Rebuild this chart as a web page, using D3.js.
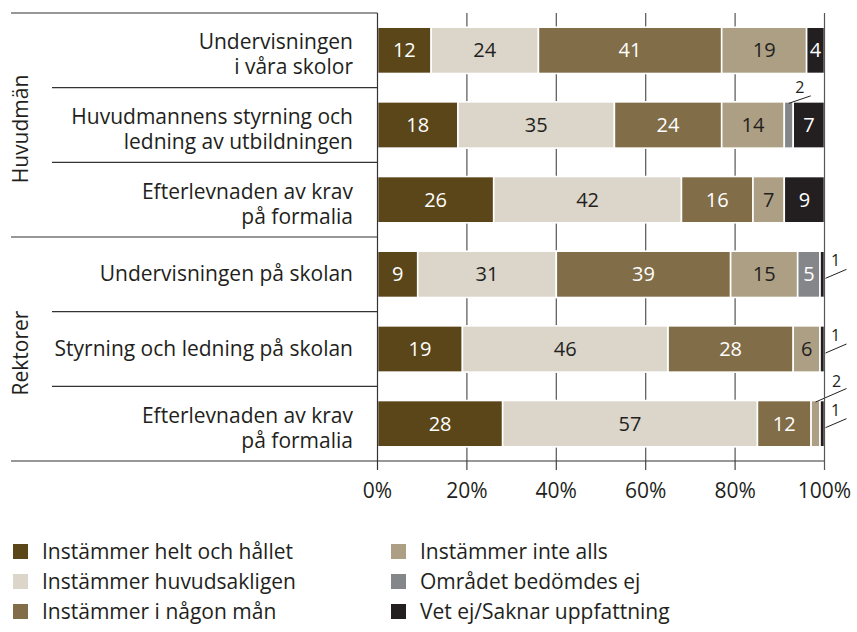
<!DOCTYPE html>
<html><head><meta charset="utf-8">
<script src="https://cdn.jsdelivr.net/npm/d3@7"></script>
<style>
html,body{margin:0;padding:0;background:#fff;}
svg{display:block;font-family:"Open Sans",sans-serif;}
</style></head>
<body>
<svg id="c" width="857" height="632"></svg>
<script>
// ---- data ----
const groups = ["Huvudmän", "Rektorer"];
const rowGroup = [0, 0, 0, 1, 1, 1];
const rowLabels = [
  ["Undervisningen", "i våra skolor"],
  ["Huvudmannens styrning och", "ledning av utbildningen"],
  ["Efterlevnaden av krav", "på formalia"],
  ["Undervisningen på skolan"],
  ["Styrning och ledning på skolan"],
  ["Efterlevnaden av krav", "på formalia"]
];
const seriesNames = [
  "Instämmer helt och hållet",
  "Instämmer huvudsakligen",
  "Instämmer i någon mån",
  "Instämmer inte alls",
  "Området bedömdes ej",
  "Vet ej/Saknar uppfattning"
];
const heltOchHallet   = [12, 18, 26,  9, 19, 28];
const huvudsakligen   = [24, 35, 42, 31, 46, 57];
const iNagonMan       = [41, 24, 16, 39, 28, 12];
const inteAlls        = [19, 14,  7, 15,  6,  2];
const omradetEj       = [ 0,  2,  0,  5,  0,  0];
const vetEj           = [ 4,  7,  9,  1,  1,  1];
const tickValues = [0, 20, 40, 60, 80, 100];

const colors = ["#5b461a", "#dbd5ca", "#816d48", "#ad9f84", "#85868a", "#231f20"];
const textOn = ["#fff", "#231f20", "#fff", "#231f20", "#fff", "#fff"];
const ink = "#231f20";

const seriesValues = [heltOchHallet, huvudsakligen, iNagonMan, inteAlls, omradetEj, vetEj];
const table = rowLabels.map((l, i) => {
  const o = {row: i};
  seriesNames.forEach((s, k) => o[s] = seriesValues[k][i]);
  return o;
});

// ---- layout ----
const svg = d3.select("#c");
const x = d3.scaleLinear().domain([0, 100]).range([377.5, 824.5]);
const y = d3.scaleBand().domain(d3.range(rowLabels.length)).range([13, 461])
  .paddingInner(0.38).paddingOuter(0.19);
const bw = y.bandwidth();
const yTop = 13, yBot = 461;

// gridlines
svg.append("g").selectAll("line").data(tickValues.filter(t => t > 0 && t < 100)).join("line")
  .attr("x1", d => x(d)).attr("x2", d => x(d)).attr("y1", yTop).attr("y2", yBot)
  .attr("stroke", "#555").attr("stroke-width", 1.2);

// bars
const stack = d3.stack().keys(seriesNames)(table);
const layers = svg.append("g").selectAll("g").data(stack).join("g")
  .attr("fill", (d, i) => colors[i]);
layers.selectAll("rect").data(d => d.filter(p => p[1] - p[0] > 0)).join("rect")
  .attr("x", p => x(p[0])).attr("width", p => x(p[1]) - x(p[0]))
  .attr("y", p => y(p.data.row)).attr("height", bw)
  .attr("stroke", "#fff").attr("stroke-width", 1.6);

// labels inside / callouts
const lab = svg.append("g").attr("font-size", 20).attr("text-anchor", "middle");
stack.forEach((layer, k) => {
  layer.forEach(p => {
    const v = p[1] - p[0];
    if (v <= 0) return;
    const r = p.data.row;
    const cy = y(r) + bw / 2;
    if (v >= 3) {
      lab.append("text").attr("x", (x(p[0]) + x(p[1])) / 2).attr("y", cy + 7)
        .attr("fill", textOn[k]).text(v);
    } else {
      const isLast = k === seriesNames.length - 1;
      const x1 = x(100);
      if (isLast) {
        svg.append("line").attr("x1", x1 + 1).attr("y1", cy + 4).attr("x2", x1 + 22).attr("y2", cy - 5)
          .attr("stroke", ink).attr("stroke-width", 1);
        svg.append("text").attr("x", x1 + 11).attr("y", cy - 8).attr("font-size", 16)
          .attr("text-anchor", "middle").attr("fill", ink).text(v);
      } else {
        const cx = (x(p[0]) + x(p[1])) / 2;
        const t = y(r);
        const rowHasLast = vetEj[r] > 0 && vetEj[r] < 3;
        const ex = rowHasLast ? x1 + 22 : cx + 22;
        const ey = rowHasLast ? t - 12 : t - 6;
        svg.append("line").attr("x1", cx).attr("y1", t + 1.5).attr("x2", ex).attr("y2", ey)
          .attr("stroke", ink).attr("stroke-width", 1);
        svg.append("text").attr("x", rowHasLast ? x1 + 12 : cx + 11).attr("y", rowHasLast ? t - 14 : t - 9)
          .attr("font-size", 16).attr("text-anchor", "middle").attr("fill", ink).text(v);
      }
    }
  });
});

// frame lines
const lineC = "#333";
const L = (x1, y1, x2, y2, c, w) => svg.append("line").attr("x1", x1).attr("y1", y1).attr("x2", x2).attr("y2", y2)
  .attr("stroke", c || lineC).attr("stroke-width", w || 1.2);
L(11, yTop, 377.5, yTop);
L(11, yBot, 824.5, yBot);
L(377.5, yTop, 377.5, yBot + 9);
L(824.5, yTop, 824.5, yBot + 9, "#555");
for (let i = 0; i < rowLabels.length - 1; i++) {
  const yy = (y(i) + bw + y(i + 1)) / 2;
  if (rowGroup[i] !== rowGroup[i + 1]) L(11, yy, 377.5, yy);
  else L(52, yy, 377.5, yy);
}

// bottom ticks and labels
const ax = svg.append("g");
ax.selectAll("line").data(tickValues.filter(t => t > 0 && t < 100)).join("line")
  .attr("x1", d => x(d)).attr("x2", d => x(d)).attr("y1", yBot).attr("y2", yBot + 9)
  .attr("stroke", "#444").attr("stroke-width", 1.2);
ax.selectAll("text").data(tickValues).join("text")
  .attr("x", d => x(d)).attr("y", 498).attr("text-anchor", "middle")
  .attr("font-size", 21).attr("fill", ink).text(d => d + "%");

// row labels
const rl = svg.append("g").attr("font-size", 21).attr("fill", ink).attr("text-anchor", "end");
rowLabels.forEach((lines, i) => {
  const cy = y(i) + bw / 2;
  const t = rl.append("text").attr("x", 353);
  if (lines.length === 1) {
    t.append("tspan").attr("x", 353).attr("y", cy + 7).text(lines[0]);
  } else {
    lines.forEach((s, j) => t.append("tspan").attr("x", 353).attr("y", cy - 1 + j * 25).text(s));
  }
});

// group labels
groups.forEach((g, gi) => {
  const idx = d3.range(rowLabels.length).filter(i => rowGroup[i] === gi);
  const y0 = y(idx[0]) - y.step() * y.paddingInner() / 2;
  const y1 = y(idx[idx.length - 1]) + bw + y.step() * y.paddingInner() / 2;
  const cy = (y0 + y1) / 2 + 4;
  svg.append("text").attr("transform", `translate(28,${cy}) rotate(-90)`)
    .attr("text-anchor", "middle").attr("font-size", 21).attr("fill", ink).text(g);
});

// legend
const leg = svg.append("g");
seriesNames.forEach((s, i) => {
  const col = Math.floor(i / 3), r = i % 3;
  const lx = col === 0 ? 13 : 391, ly = 552 + r * 30;
  leg.append("rect").attr("x", lx).attr("y", ly - 8).attr("width", 15).attr("height", 15).attr("fill", colors[i]);
  leg.append("text").attr("x", lx + 29).attr("y", ly + 7).attr("font-size", 21).attr("fill", ink).text(s);
});
</script>
</body></html>
